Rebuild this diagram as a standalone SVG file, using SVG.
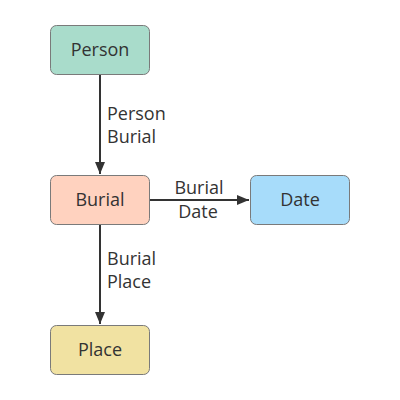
<svg xmlns="http://www.w3.org/2000/svg" width="400" height="400" viewBox="0 0 400 400">
<style>
.box{stroke:#7a7a7a;stroke-width:1}
.t{font-family:"Open Sans",Lato,sans-serif;font-size:18px;fill:#333}
.edge{stroke:#333;stroke-width:2;fill:none}
</style>
<defs>
<marker id="a" viewBox="0 0 12 10" refX="12" refY="5" markerWidth="12" markerHeight="10" orient="auto" markerUnits="userSpaceOnUse">
<path d="M0,0 L12,5 L0,10 z" fill="#333"/>
</marker>
</defs>
<rect width="400" height="400" fill="#fff"/>
<g id="connectors">
<line class="edge" x1="100" y1="75" x2="100" y2="174" marker-end="url(#a)"/>
<line class="edge" x1="150" y1="200" x2="249" y2="200" marker-end="url(#a)"/>
<line class="edge" x1="100" y1="225" x2="100" y2="324" marker-end="url(#a)"/>
<text class="t" x="107" y="120">Person</text>
<text class="t" x="107" y="143">Burial</text>
<text class="t" x="199" y="194" text-anchor="middle">Burial</text>
<text class="t" x="198" y="218" text-anchor="middle">Date</text>
<text class="t" x="107" y="265">Burial</text>
<text class="t" x="107" y="288">Place</text>
</g>
<g id="person"><rect class="box" x="50.5" y="25.5" width="99" height="49" rx="6" fill="#a9dccb"/><text class="t" x="100" y="56" text-anchor="middle">Person</text></g>
<g id="burial"><rect class="box" x="50.5" y="175.5" width="99" height="49" rx="6" fill="#ffd2bf"/><text class="t" x="100" y="206" text-anchor="middle">Burial</text></g>
<g id="date"><rect class="box" x="250.5" y="175.5" width="99" height="49" rx="6" fill="#a7dcfa"/><text class="t" x="300" y="206" text-anchor="middle">Date</text></g>
<g id="place"><rect class="box" x="50.5" y="325.5" width="99" height="49" rx="6" fill="#f1e2a2"/><text class="t" x="100" y="356" text-anchor="middle">Place</text></g>
</svg>
